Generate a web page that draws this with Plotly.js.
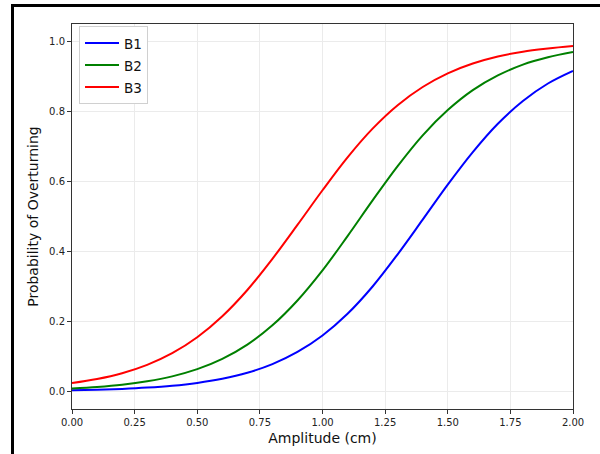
<!DOCTYPE html>
<html>
<head>
<meta charset="utf-8">
<script src="https://cdn.plot.ly/plotly-3.0.1.min.js"></script>
<style>
html,body{margin:0;padding:0;overflow:hidden;background:#fff;}
#wrap{position:relative;width:600px;height:454px;overflow:hidden;}
#plot{position:absolute;left:0;top:0;width:600px;height:454px;}
#frame{position:absolute;left:11px;top:4px;width:700px;height:600px;border:3px solid #000;pointer-events:none;box-sizing:border-box;}
</style>
</head>
<body>
<div id="wrap"><div id="plot"></div><div id="frame"></div></div>
<script>
const amplitude = [0.0,0.1,0.2,0.3,0.4,0.5,0.6,0.7,0.8,0.9,1.0,1.1,1.2,1.3,1.4,1.5,1.6,1.7,1.8,1.9,2.0];
const b1 = [0.0033,0.0050,0.0074,0.0111,0.0165,0.0246,0.0364,0.0536,0.0783,0.113,0.160,0.222,0.300,0.392,0.491,0.591,0.684,0.765,0.830,0.880,0.916];
const b2 = [0.0087,0.0131,0.0195,0.0292,0.0433,0.0638,0.0932,0.134,0.189,0.260,0.346,0.444,0.546,0.644,0.732,0.804,0.861,0.903,0.934,0.955,0.970];
const b3 = [0.0242,0.0357,0.0523,0.0761,0.1095,0.155,0.215,0.290,0.379,0.476,0.575,0.669,0.751,0.818,0.870,0.909,0.937,0.957,0.971,0.980,0.987];
const seriesNames = ['B1','B2','B3'];
const seriesColors = ['#0000ff','#008000','#ff0000'];
const seriesData = [b1,b2,b3];

const traces = seriesData.map((d,i)=>({
  x: amplitude, y: d, name: '<span style="font-size:13.5px">' + seriesNames[i] + '</span>', type:'scatter', mode:'lines',
  line:{color:seriesColors[i], width:2, shape:'spline', smoothing:1}
}));

const font = {family:'DejaVu Sans, sans-serif', size:10, color:'#222'};
const layout = {
  width:600, height:454,
  margin:{l:72, r:27, t:24, b:45},
  paper_bgcolor:'rgba(0,0,0,0)', plot_bgcolor:'#fff',
  font: font,
  showlegend:true,
  legend:{x:0.014, y:0.995, xanchor:'left', yanchor:'top', bgcolor:'#fff',
    bordercolor:'#d0d0d0', borderwidth:1, font:{family:'DejaVu Sans, sans-serif', size:14.6, color:'#111'},
    itemwidth:34, tracegroupgap:0},
  xaxis:{range:[0,2], tickmode:'array', tickvals:[0,0.25,0.5,0.75,1,1.25,1.5,1.75,2],
    ticktext:['0.00','0.25','0.50','0.75','1.00','1.25','1.50','1.75','2.00'],
    ticks:'outside', ticklen:4, tickcolor:'#333', showline:true, linecolor:'#333', linewidth:1, mirror:true,
    showgrid:true, gridcolor:'#ebebeb', gridwidth:1, zeroline:false,
    title:{text:'Amplitude (cm)', font:{family:'DejaVu Sans, sans-serif', size:14, color:'#111'}, standoff:6}},
  yaxis:{range:[-0.05,1.05], tickmode:'array', tickvals:[0,0.2,0.4,0.6,0.8,1.0],
    ticktext:['0.0','0.2','0.4','0.6','0.8','1.0'],
    ticks:'outside', ticklen:4, tickcolor:'#333', showline:true, linecolor:'#333', linewidth:1, mirror:true,
    showgrid:true, gridcolor:'#ebebeb', gridwidth:1, zeroline:false,
    title:{text:'Probability of Overturning', font:{family:'DejaVu Sans, sans-serif', size:14, color:'#111'}, standoff:7}}
};
Plotly.newPlot('plot', traces, layout, {displayModeBar:false, staticPlot:true});
</script>
</body>
</html>
